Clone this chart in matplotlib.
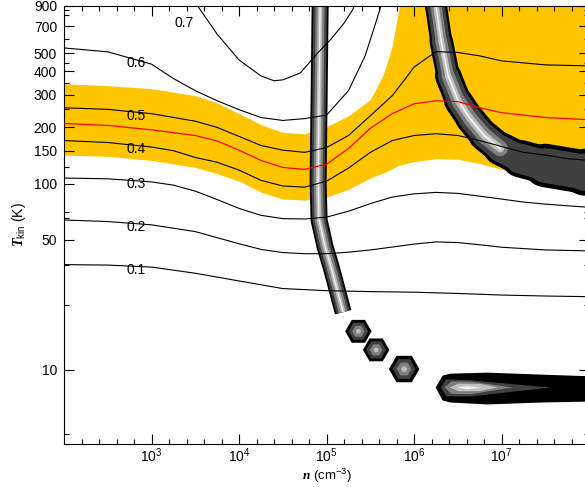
import numpy as np
import matplotlib.pyplot as plt
from matplotlib.collections import LineCollection
from matplotlib.ticker import FixedLocator, NullFormatter, LogFormatterMathtext

plt.rcParams['font.family'] = ['Liberation Sans', 'DejaVu Sans']
plt.rcParams['mathtext.fontset'] = 'custom'
plt.rcParams['mathtext.rm'] = 'Liberation Sans'
plt.rcParams['mathtext.bf'] = 'Liberation Serif:bold:italic'
plt.rcParams['font.size'] = 10

# ---- contour lines of the line ratio (log10 n, Tkin) ----
lg_01 = [2.0, 2.5, 3.0, 3.5, 4.0, 4.5, 5.0, 5.5, 6.0, 6.5, 7.0, 7.5, 8.0]
T_01 = [36.7, 36.5, 35.6, 33.0, 30.0, 27.3, 26.6, 26.3, 26.1, 25.7, 25.2, 24.9, 24.7]

lg_02 = [2.0, 2.5, 3.0, 3.5, 4.0, 4.25, 4.5, 4.75, 5.0, 5.25, 5.5, 5.75, 6.0,
         6.25, 6.5, 6.75, 7.0, 7.5, 8.0]
T_02 = [63.7, 62.5, 60.0, 55.2, 47.5, 44.3, 42.6, 42.0, 42.0, 42.8, 44.0, 45.6,
        47.3, 48.6, 48.2, 46.9, 45.5, 44.0, 43.5]

lg_03 = [2.0, 2.5, 3.0, 3.25, 3.5, 3.75, 4.0, 4.25, 4.5, 4.75, 5.0, 5.25, 5.5,
         5.75, 6.0, 6.25, 6.5, 6.75, 7.0, 7.25, 7.5, 8.0]
T_03 = [107, 106, 102, 98, 91, 82, 73.5, 67.5, 64.8, 64.5, 66, 71, 78, 84.6, 88,
        89.6, 88.5, 85.5, 82.5, 79.5, 77.5, 74.5]

lg_04 = [2.0, 2.5, 3.0, 3.25, 3.5, 3.75, 4.0, 4.25, 4.5, 4.75, 5.0, 5.25, 5.5,
         5.75, 6.0, 6.25, 6.5, 6.75, 7.0, 7.25, 7.5, 7.75, 8.0]
T_04 = [170, 166, 157, 150, 138, 130, 118, 104, 97, 95.6, 103, 121, 147, 170,
        181, 185, 181, 170, 158, 147, 142, 136, 133]

lg_obs = [2.0, 2.5, 3.0, 3.5, 3.75, 4.0, 4.25, 4.5, 4.75, 5.0, 5.25, 5.5, 5.75,
          6.0, 6.25, 6.5, 6.75, 7.0, 7.5, 8.0]
T_obs = [210, 205, 194, 181, 169, 151, 133, 122, 119, 127, 154, 198, 237, 268,
         278, 275, 255, 240, 226, 220]

lg_05 = [2.0, 2.5, 3.0, 3.5, 3.75, 4.0, 4.25, 4.5, 4.75, 5.0, 5.25, 5.5, 5.75,
         5.9, 6.0, 6.25, 6.5, 6.75, 7.0, 7.5, 8.0]
T_05 = [255, 250, 237, 216, 200, 179, 160, 151, 147, 156, 181, 231, 296, 365,
        422, 510, 505, 484, 455, 433, 428]

lg_06 = [2.0, 2.5, 3.0, 3.25, 3.5, 3.75, 4.0, 4.25, 4.5, 4.75, 5.0, 5.25, 5.44,
         5.55, 5.62, 5.66]
T_06 = [534, 509, 437, 366, 315, 278, 249, 226, 218, 223, 233, 315, 484, 700,
        893, 1000]

lg_07 = [3.45, 3.53, 3.75, 4.0, 4.25, 4.4, 4.5, 4.7, 4.9, 5.05, 5.2, 5.3, 5.35]
T_07 = [1000, 893, 633, 460, 378, 356, 360, 392, 503, 595, 726, 860, 1000]

levels = ['0.1', '0.2', '0.3', '0.4', '0.5', '0.6']

# ---- allowed region (yellow) ----
lg_band = [2.0, 2.5, 3.0, 3.5, 3.75, 4.0, 4.25, 4.5, 4.75, 5.0, 5.25, 5.5, 5.65,
           5.75, 5.82, 5.85, 6.0, 6.25, 6.5, 6.75, 7.0, 7.5, 8.0]
T_band_hi = [343, 335, 323, 296, 271, 237, 207, 188, 185, 202, 231, 282, 386,
             548, 840, 1000, 1000, 1000, 1000, 1000, 1000, 1000, 1000]
T_band_lo = [142, 140, 133, 122, 113, 103, 89.9, 82.5, 81.5, 84.6, 93, 107, 114,
             120, 125, 126, 131, 136, 135, 128, 119, 107, 104]

# ---- chi2 valleys (grey) ----
lg_v1 = [4.926, 4.926, 4.914, 4.903, 4.914, 4.983, 5.051, 5.12, 5.189]
T_v1 = [1100, 893, 278, 104, 63.7, 45.7, 35.7, 27.0, 20.4]
lg_spots = [5.363, 5.566, 5.886]
T_spots = [16.1, 12.8, 10.1]

lg_v2 = [6.24, 6.251, 6.309, 6.389, 6.503, 6.64, 6.8, 6.983, 7.211, 7.497, 7.954, 8.1]
T_v2 = [1100, 893, 582, 378, 278, 223, 181, 154, 136, 125, 115, 112]

lg_v3 = [6.24, 6.32, 6.41, 6.834, 7.44, 8.1]
T_v3_hi = [8.09, 9.37, 9.60, 9.72, 9.49, 9.26]
T_v3_lo = [8.09, 6.89, 6.72, 6.56, 6.72, 6.81]
lg_v3b = [6.30, 6.36, 6.64, 6.983, 7.55]
T_v3b_hi = [8.09, 8.95, 8.85, 8.55, 8.09]
T_v3b_lo = [8.09, 7.25, 7.25, 7.55, 8.09]
lg_v3c = [6.34, 6.42, 6.64, 7.12]
T_v3c_hi = [8.09, 8.70, 8.70, 8.09]
T_v3c_lo = [8.09, 7.48, 7.45, 8.09]
lg_v3d = [6.40, 6.50, 6.75, 6.95]
T_v3d_hi = [8.09, 8.48, 8.45, 8.09]
T_v3d_lo = [8.09, 7.72, 7.74, 8.09]
lg_v3e = [6.48, 6.60, 6.76]
T_v3e_hi = [8.09, 8.25, 8.09]
T_v3e_lo = [8.09, 7.90, 8.09]

yticks = [10, 50, 100, 150, 200, 300, 400, 500, 700, 900]
yminor = [4.5, 22.4, 36.5, 65, 70, 122, 250, 345, 445, 600, 800, 850]

fig = plt.figure(figsize=(5.85, 4.87), dpi=100)
ax = fig.add_axes([64/585, 43/487, 525.2/585, 438.3/487])
ax.set_xscale('log')
ax.set_yscale('log')

n = lambda lg: 10**np.asarray(lg)

ax.fill_between(n(lg_band), T_band_lo, T_band_hi, color='#ffc600', lw=0, zorder=1)

greys = ['black', '#404040', '#7f7f7f', '#bfbfbf', '#f0f0f0']

# vertical valley
for w, c in zip([17, 13.5, 9, 4.5, 1.2], greys):
    ax.plot(n(lg_v1), T_v1, color=c, lw=w*0.72, solid_capstyle='butt',
            solid_joinstyle='round', zorder=2)
spot_ms = np.array([19, 19, 22])
for s, c in zip([1.0, 0.75, 0.48, 0.2], greys):
    ax.scatter(n(lg_spots), T_spots, marker='H', s=(spot_ms*s)**2, lw=0,
               color=c, zorder=2)

# diagonal valley with growing width
wid = np.array([22, 22, 22, 25, 28, 29, 30, 32, 35, 40, 47, 47])
pts = np.column_stack([n(lg_v2), T_v2])
segs = np.stack([pts[:-1], pts[1:]], axis=1)
wseg = 0.5*(wid[:-1] + wid[1:])*0.72
for k, (f, c) in enumerate(zip([1.0, 0.8, 0.5, 0.25, 0.07], greys)):
    m = len(segs) if k < 2 else 7
    lc = LineCollection(segs[:m], linewidths=wseg[:m]*f, colors=c,
                        capstyle='round', joinstyle='round', zorder=2)
    ax.add_collection(lc)

# bottom valley
for lg, lo, hi, c in [(lg_v3, T_v3_lo, T_v3_hi, greys[0]),
                      (lg_v3b, T_v3b_lo, T_v3b_hi, greys[1]),
                      (lg_v3c, T_v3c_lo, T_v3c_hi, greys[2]),
                      (lg_v3d, T_v3d_lo, T_v3d_hi, greys[3]),
                      (lg_v3e, T_v3e_lo, T_v3e_hi, greys[4])]:
    ax.fill_between(n(lg), lo, hi, color=c, lw=0, zorder=2)

# contours
lines = [(lg_01, T_01), (lg_02, T_02), (lg_03, T_03), (lg_04, T_04),
         (lg_05, T_05), (lg_06, T_06)]
for (lg, T), lab in zip(lines, levels):
    ax.plot(n(lg), T, color='black', lw=0.8, zorder=3)
    ty = np.interp(2.823, lg, np.log10(T))
    ax.annotate(lab, (10**2.823, 10**ty), xytext=(0, -2.5), textcoords='offset points',
                ha='center', va='center', fontsize=10, zorder=4)
ax.plot(n(lg_07), T_07, color='black', lw=0.8, zorder=3)
ax.text(10**3.371, 726, '0.7', ha='center', va='center', fontsize=10, zorder=4)
ax.plot(n(lg_obs), T_obs, color='red', lw=0.9, zorder=3)

ax.set_xlim(1e2, 1e8)
ax.set_ylim(4.0, 900)

ax.xaxis.set_major_locator(FixedLocator([1e3, 1e4, 1e5, 1e6, 1e7]))
ax.xaxis.set_major_formatter(LogFormatterMathtext())
ax.xaxis.set_minor_locator(FixedLocator([10**(2 + 0.2*i) for i in range(31) if i % 5]))
ax.xaxis.set_minor_formatter(NullFormatter())
ax.yaxis.set_major_locator(FixedLocator(yticks))
ax.set_yticklabels([str(v) for v in yticks])
ax.yaxis.set_minor_locator(FixedLocator(yminor))
ax.yaxis.set_minor_formatter(NullFormatter())
ax.tick_params(which='both', direction='in', top=True, right=True, width=0.8)
ax.tick_params(which='major', length=7, labelsize=10)
ax.tick_params(axis='x', which='major', pad=2)
ax.tick_params(axis='y', which='major', pad=5)
ax.tick_params(which='minor', length=3.5)
for s in ax.spines.values():
    s.set_linewidth(0.8)

ax.set_xlabel(r'$\mathbf{n}$ (cm$^{-3}$)', fontsize=9.5, va='top')
ax.xaxis.set_label_coords(0.5, -0.0525)
ax.set_ylabel(r'$\mathbf{T}_{\mathrm{kin}}$ (K)', fontsize=10, labelpad=4)

fig.savefig('out.png', dpi=100)
